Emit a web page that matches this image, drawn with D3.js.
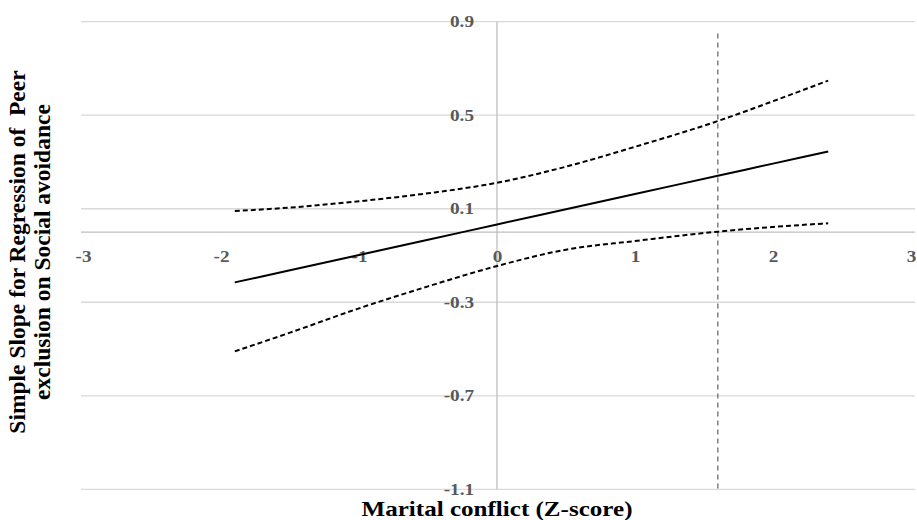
<!DOCTYPE html>
<html>
<head>
<meta charset="utf-8">
<script src="https://cdn.jsdelivr.net/npm/d3@7"></script>
<style>
  body { margin: 0; background: #fff; }
  text { font-family: "Liberation Serif", "Times New Roman", serif; }
</style>
</head>
<body>
<div id="vis"></div>
<script>
const width = 917;
const height = 520;

// marital conflict (z-score) at which the slope was read
const zValues = [-1.9, -1.5, -1, -0.5, 0, 0.5, 1, 1.6, 2, 2.4];
const slope = [-0.215, -0.163, -0.098, -0.033, 0.033, 0.098, 0.163, 0.241, 0.293, 0.345];
const upperCI = [0.09, 0.105, 0.132, 0.166, 0.211, 0.28, 0.365, 0.475, 0.56, 0.648];
const lowerCI = [-0.51, -0.43, -0.326, -0.232, -0.145, -0.075, -0.038, 0.002, 0.022, 0.038];
const xTicks = [-3, -2, -1, 0, 1, 2, 3];
const yTicks = [-1.1, -0.7, -0.3, 0.1, 0.5, 0.9];
const jnPoint = 1.6;
const jnRange = [-1.1, 0.85];

// the picture is a bit wider than tall, so text is stretched sideways
const stretch = 1.2;

const svg = d3
  .select("#vis")
  .append("svg")
  .attr("width", width)
  .attr("height", height);

const xScale = d3.scaleLinear().domain([-3, 3]).range([83, 911]);
const yScale = d3.scaleLinear().domain([-1.1, 0.9]).range([489.3, 21.7]);

// gridlines
svg
  .selectAll(".grid")
  .data(yTicks)
  .join("line")
  .attr("class", "grid")
  .attr("x1", 81)
  .attr("x2", 915)
  .attr("y1", (d) => yScale(d))
  .attr("y2", (d) => yScale(d))
  .attr("stroke", "#d9d9d9")
  .attr("stroke-width", 1.3);

// zero line (x axis)
svg
  .append("line")
  .attr("x1", 81)
  .attr("x2", 915)
  .attr("y1", yScale(0))
  .attr("y2", yScale(0))
  .attr("stroke", "#bfbfbf")
  .attr("stroke-width", 1.3);

// vertical axis line
svg
  .append("line")
  .attr("x1", xScale(0))
  .attr("x2", xScale(0))
  .attr("y1", yScale(0.9))
  .attr("y2", yScale(-1.1))
  .attr("stroke", "#bfbfbf")
  .attr("stroke-width", 1.3);

const fmt = (f) => (d) => f(d).replace("−", "-");

const styleTicks = (g) =>
  g
    .selectAll(".tick text")
    .attr("font-family", '"Liberation Serif", "Times New Roman", serif')
    .attr("font-size", 16)
    .attr("font-weight", "bold")
    .attr("fill", "#595959");

const xAxis = d3
  .axisBottom(xScale)
  .tickValues(xTicks)
  .tickSize(0)
  .tickPadding(19)
  .tickFormat(fmt(d3.format("d")));
svg
  .append("g")
  .attr("transform", `translate(0,${yScale(0)})`)
  .call(xAxis)
  .call((g) => g.select(".domain").remove())
  .call(styleTicks)
  .call((g) => g.selectAll(".tick text").attr("transform", `scale(${stretch},1)`));

const yAxis = d3
  .axisLeft(yScale)
  .tickValues(yTicks)
  .tickSize(0)
  .tickPadding(23)
  .tickFormat(fmt(d3.format(".1f")));
svg
  .append("g")
  .attr("transform", `translate(${xScale(0)},0)`)
  .call(yAxis)
  .call((g) => g.select(".domain").remove())
  .call(styleTicks)
  .call((g) =>
    g
      .selectAll(".tick text")
      .attr("x", -23 / stretch)
      .attr("transform", `scale(${stretch},1)`),
  );

// Johnson-Neyman line
svg
  .append("line")
  .attr("x1", xScale(jnPoint))
  .attr("x2", xScale(jnPoint))
  .attr("y1", yScale(jnRange[1]))
  .attr("y2", yScale(jnRange[0]))
  .attr("stroke", "#808080")
  .attr("stroke-width", 1.5)
  .attr("stroke-dasharray", "5,4");

const line = (vals) =>
  d3
    .line()
    .x((d, i) => xScale(zValues[i]))
    .y((d) => yScale(d))
    .curve(d3.curveMonotoneX)(vals);

svg
  .append("path")
  .attr("d", line(upperCI))
  .attr("fill", "none")
  .attr("stroke", "#000")
  .attr("stroke-width", 2)
  .attr("stroke-dasharray", "5,3");

svg
  .append("path")
  .attr("d", line(lowerCI))
  .attr("fill", "none")
  .attr("stroke", "#000")
  .attr("stroke-width", 2)
  .attr("stroke-dasharray", "5,3");

svg
  .append("path")
  .attr("d", line(slope))
  .attr("fill", "none")
  .attr("stroke", "#000")
  .attr("stroke-width", 2);

// axis titles
svg
  .append("text")
  .attr("x", xScale(0) - 135.5)
  .attr("y", 515.5)
  .attr("font-size", 21)
  .attr("font-weight", "bold")
  .attr("textLength", 271)
  .attr("lengthAdjust", "spacingAndGlyphs")
  .text("Marital conflict (Z-score)");

const yTitle = svg
  .append("text")
  .attr("transform", "translate(0,252) rotate(-90)")
  .attr("text-anchor", "middle")
  .attr("font-size", 23.5)
  .attr("font-weight", "bold");
yTitle
  .append("tspan")
  .attr("x", 0)
  .attr("y", 25)
  .attr("xml:space", "preserve")
  .style("white-space", "pre")
  .text("Simple Slope for Regression of  Peer");
yTitle
  .append("tspan")
  .attr("x", 0)
  .attr("y", 50)
  .text("exclusion on Social avoidance");
</script>
</body>
</html>
